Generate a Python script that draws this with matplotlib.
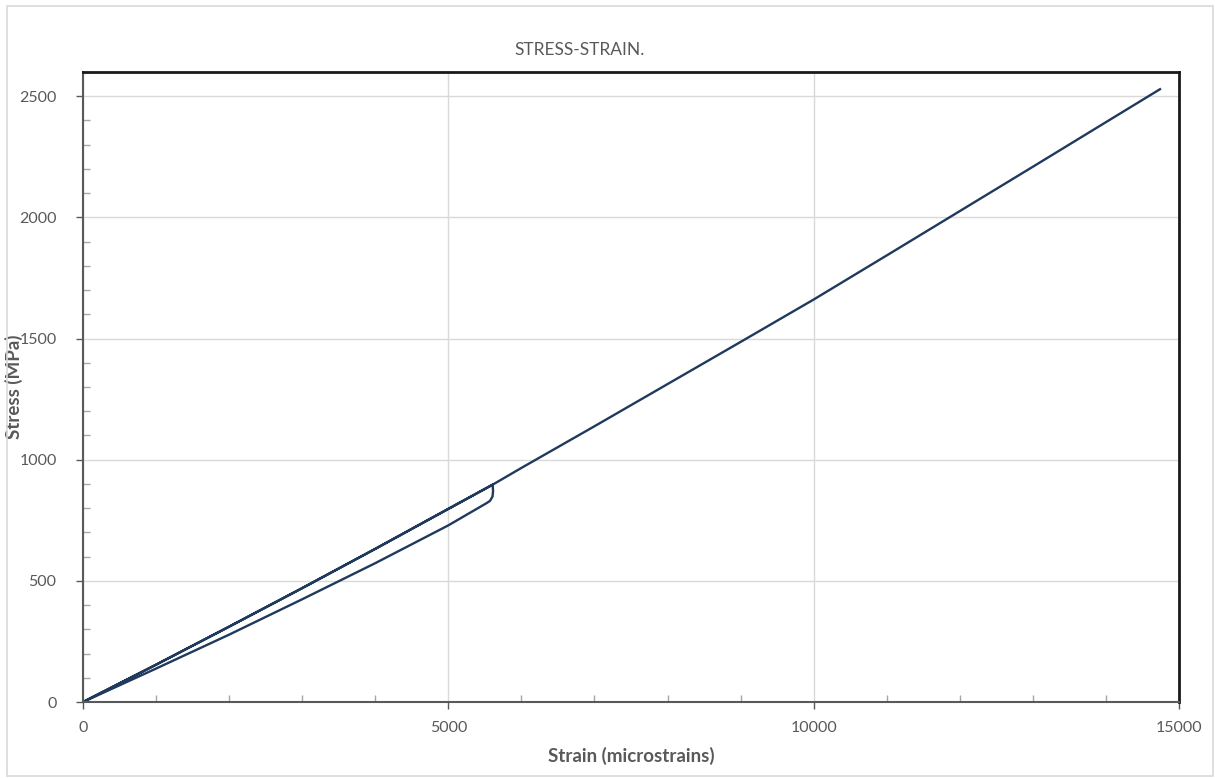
"""Stress-strain curve for a load / unload / reload cycle."""

import matplotlib
matplotlib.use("Agg")
import matplotlib.pyplot as plt
from matplotlib.patches import Rectangle
from matplotlib.ticker import MultipleLocator

# First loading up to ~5600 microstrains
load_strain = [0, 1000, 2000, 3000, 4000, 5000, 5607]
load_stress = [0, 154, 311, 470, 632, 797, 897]

# Unloading: short vertical drop, then back to the origin
unload_strain = [5607, 5612, 5605, 5570, 5525, 5000, 4000, 3000, 2000, 1000, 0]
unload_stress = [897, 870, 848, 830, 821, 729, 573, 424, 278, 138, 0]

# Reloading past the previous peak to failure
reload_strain = [0, 1000, 2000, 3000, 4000, 5000, 5607, 6000, 7000, 8000,
                 9000, 10000, 11000, 12000, 13000, 14000, 14740]
reload_stress = [0, 154, 311, 470, 632, 797, 897, 966, 1138, 1312,
                 1486, 1661, 1843, 2026, 2209, 2393, 2529]

strain = load_strain + unload_strain[1:] + reload_strain[1:]
stress = load_stress + unload_stress[1:] + reload_stress[1:]

GREY = "#595959"
LINE = "#1f3a5c"

plt.rcParams["font.family"] = ["Lato", "DejaVu Sans"]

fig = plt.figure(figsize=(12.15, 7.78), dpi=100)
W, H = 1215, 778
ax = fig.add_axes([83 / W, 76 / H, 1096 / W, 630 / H])

# light chart-area border
fig.patches.append(Rectangle((7 / W, 2 / H), 1206 / W, 770 / H,
                             transform=fig.transFigure, fill=False,
                             edgecolor="#d9d9d9", linewidth=1.2))

ax.plot(strain, stress, color=LINE, linewidth=1.7, solid_joinstyle="round")

ax.set_xlim(0, 15000)
ax.set_ylim(0, 2600)
ax.xaxis.set_major_locator(MultipleLocator(5000))
ax.xaxis.set_minor_locator(MultipleLocator(1000))
ax.yaxis.set_major_locator(MultipleLocator(500))
ax.yaxis.set_minor_locator(MultipleLocator(100))

ax.grid(which="major", color="#d9d9d9", linewidth=1)
ax.set_axisbelow(True)

ax.tick_params(which="major", direction="out", length=5, width=1,
               color=GREY, labelcolor=GREY, labelsize=11.5)
ax.tick_params(axis="y", which="major", pad=14)
ax.tick_params(axis="x", which="major", pad=9)
ax.tick_params(which="minor", direction="in", length=5, width=1, color="#a6a6a6")

for side in ("top", "right"):
    ax.spines[side].set_color("#1a1a1a")
    ax.spines[side].set_linewidth(2)
for side in ("left", "bottom"):
    ax.spines[side].set_color(GREY)
    ax.spines[side].set_linewidth(1.5)

ax.set_xlabel("Strain (microstrains)", color=GREY, fontsize=13.5, fontweight="bold",
              labelpad=8)
ax.set_ylabel("Stress (MPa)", color=GREY, fontsize=13.5, fontweight="bold")
ax.yaxis.set_label_coords(-60 / 1096, 0.5)

fig.text(580 / W, 1 - 50 / H, "STRESS-STRAIN.", color=GREY, fontsize=12.5,
         ha="center", va="center")

fig.savefig("out.png", dpi=100)
